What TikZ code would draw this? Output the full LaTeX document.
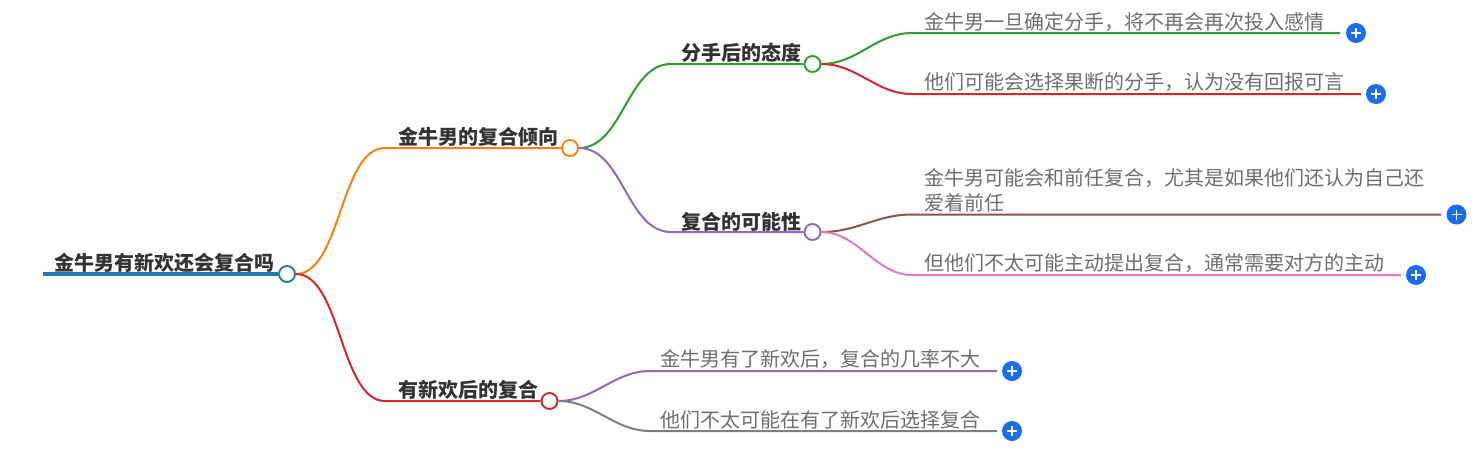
\documentclass[tikz,border=0pt]{standalone}
\usepackage{fontspec}
\setmainfont{Noto Sans CJK SC}
\definecolor{cblue}{HTML}{1F77B4}
\definecolor{corange}{HTML}{FF7F0E}
\definecolor{cgreen}{HTML}{2CA02C}
\definecolor{cred}{HTML}{D62728}
\definecolor{cpurple}{HTML}{9467BD}
\definecolor{cbrown}{HTML}{8C564B}
\definecolor{cpink}{HTML}{E377C2}
\definecolor{cgray}{HTML}{7F7F7F}
\definecolor{plusblue}{HTML}{1A6CF0}
\definecolor{leaftext}{HTML}{6E6E6E}
\definecolor{headtext}{HTML}{333333}
\newcommand{\fwc}{\symbol{"FF0C}}
\tikzset{
  headlabel/.style={anchor=west,inner sep=0pt,font=\fontsize{20}{24}\selectfont\bfseries,text=headtext},
  leaflabel/.style={anchor=west,inner sep=0pt,font=\fontsize{20}{24.5}\selectfont,text=leaftext,align=left},
  joint/.style={circle,draw=#1,fill=white,line width=1.9pt,minimum size=16pt,inner sep=0pt},
  plusbtn/.style={circle,fill=plusblue,minimum size=20pt,inner sep=0pt,
    path picture={\draw[white,line width=1.8pt]
      ([xshift=-5pt]path picture bounding box.center)--([xshift=5pt]path picture bounding box.center)
      ([yshift=-5pt]path picture bounding box.center)--([yshift=5pt]path picture bounding box.center);}},
  branch/.style={#1,line width=2pt},
}
\newcommand{\linkcurve}[5]{% colour, from node, knee, to, control length
  \draw[branch=#1] (#2.east) .. controls +(#5,0) and ([xshift=-#5]#3) .. (#3) -- (#4);
}
\begin{document}
\begin{tikzpicture}[x=1pt,y=-1pt]
\useasboundingbox (0,0) rectangle (1478,456);
% root
\coordinate (rs) at (43,274);
\node[joint=cblue] (r) at (287,274) {};
\draw[cblue,line width=4.5pt] (rs) -- (r.west);
\node[headlabel] (rt) at (54,263) {金牛男有新欢还会复合吗};
% level 1
\coordinate (k1) at (385,148);
\coordinate (k2) at (385,401);
\node[joint=corange] (a) at (570,148) {};
\node[joint=cred] (b) at (549.5,401) {};
\linkcurve{corange}{r}{k1}{a.west}{45pt}
\linkcurve{cred}{r}{k2}{b.west}{45pt}
\node[headlabel] (at) at (398,137) {金牛男的复合倾向};
\node[headlabel] (bt) at (398,389.5) {有新欢后的复合};
% level 2
\coordinate (k3) at (671,64);
\coordinate (k4) at (671,232);
\node[joint=cgreen] (c) at (812.5,64) {};
\node[joint=cpurple] (d) at (812.5,232) {};
\linkcurve{cgreen}{a}{k3}{c.west}{44pt}
\linkcurve{cpurple}{a}{k4}{d.west}{44pt}
\node[headlabel] (ct) at (681,53) {分手后的态度};
\node[headlabel] (dt) at (681,221.5) {复合的可能性};
% leaves
\coordinate (l1k) at (912,33);   \coordinate (l1e) at (1340,33);
\coordinate (l2k) at (912,94);   \coordinate (l2e) at (1361,94);
\coordinate (l3k) at (912,214.5);\coordinate (l3e) at (1441,214.5);
\coordinate (l4k) at (912,275);  \coordinate (l4e) at (1401,275);
\coordinate (l5k) at (650,371);  \coordinate (l5e) at (997,371);
\coordinate (l6k) at (650,431);  \coordinate (l6e) at (997,431);
\linkcurve{cgreen}{c}{l1k}{l1e}{36pt}
\linkcurve{cred}{c}{l2k}{l2e}{36pt}
\linkcurve{cbrown}{d}{l3k}{l3e}{36pt}
\linkcurve{cpink}{d}{l4k}{l4e}{36pt}
\linkcurve{cpurple}{b}{l5k}{l5e}{36pt}
\linkcurve{cgray}{b}{l6k}{l6e}{36pt}
\node[leaflabel] (l1) at (924,22) {金牛男一旦确定分手\fwc 将不再会再次投入感情};
\node[leaflabel] (l2) at (924,82.5) {他们可能会选择果断的分手\fwc 认为没有回报可言};
\node[leaflabel] (l3) at (924,190.5) {金牛男可能会和前任复合\fwc 尤其是如果他们还认为自己还\\爱着前任};
\node[leaflabel] (l4) at (924,263.5) {但他们不太可能主动提出复合\fwc 通常需要对方的主动};
\node[leaflabel] (l5) at (660.5,359.5) {金牛男有了新欢后\fwc 复合的几率不大};
\node[leaflabel] (l6) at (660.5,419.5) {他们不太可能在有了新欢后选择复合};
\node[plusbtn] (p1) at (1356,33) {};
\node[plusbtn] (p2) at (1376,94) {};
\node[plusbtn] (p3) at (1456.5,214.5) {};
\node[plusbtn] (p4) at (1416,275) {};
\node[plusbtn] (p5) at (1012,371) {};
\node[plusbtn] (p6) at (1012,431) {};
\end{tikzpicture}
\end{document}
